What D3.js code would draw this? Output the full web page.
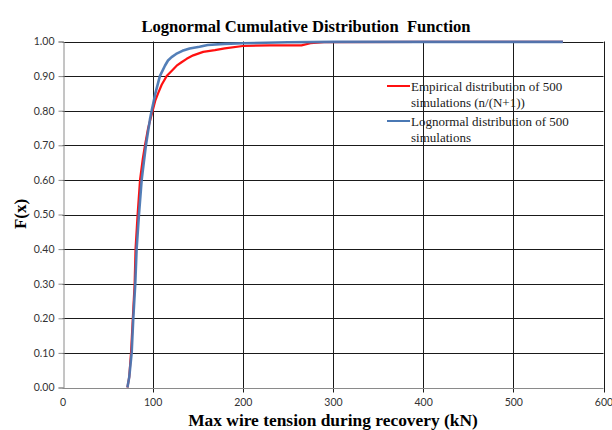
<!DOCTYPE html>
<html><head><meta charset="utf-8">
<script src="https://cdn.jsdelivr.net/npm/d3@7"></script>
<style>body{margin:0;background:#fff}svg{display:block}</style>
</head><body>
<svg id="c" width="612" height="430"></svg>
<script>
const xTicks = [0,100,200,300,400,500,600];
const yTicks = [0,0.1,0.2,0.3,0.4,0.5,0.6,0.7,0.8,0.9,1.0];
// Empirical distribution (n/(N+1))
const empX = [72,74,76,78,80,81,83.3,86,89,91.5,95,100,103,106,110,115.5,121,126.6,132,137.7,145,156,169,180,200,230,265,275,290,400,555];
const empF = [0,0.03,0.1,0.2,0.3,0.4,0.5,0.6,0.66,0.7,0.75,0.8,0.83,0.85,0.875,0.9,0.915,0.93,0.94,0.95,0.96,0.97,0.975,0.98,0.987,0.989,0.989,0.995,0.998,0.999,0.999];
// Lognormal distribution
const logX = [72,74,76.7,78.5,80.7,82.2,84.8,87.8,92.5,97,98.9,103,108,113.6,117,121,126,133,141,152,161,180,200,250,300,555];
const logF = [0,0.03,0.1,0.2,0.3,0.4,0.5,0.6,0.7,0.775,0.8,0.85,0.9,0.93,0.945,0.955,0.964,0.973,0.98,0.985,0.99,0.993,0.995,0.998,0.999,0.999];
const legendLabels = [["Empirical distribution of 500","simulations (n/(N+1))"],["Lognormal distribution of 500","simulations"]];
const colors = ["#ff1010","#4a78b4"];

const svg = d3.select("#c");
const x = d3.scaleLinear().domain([0,600]).range([62.5,603.5]);
const y = d3.scaleLinear().domain([0,1]).range([387.5,41.5]);

// grid
svg.append("g").selectAll("line").data(yTicks.slice(1)).join("line")
  .attr("x1",x(0)).attr("x2",x(600)).attr("y1",d=>Math.round(y(d))+0.5).attr("y2",d=>Math.round(y(d))+0.5)
  .attr("stroke","#1a1a1a").attr("stroke-width",1);
svg.append("g").selectAll("line").data(xTicks.slice(1)).join("line")
  .attr("x1",d=>Math.round(x(d))+0.5).attr("x2",d=>Math.round(x(d))+0.5).attr("y1",y(1)).attr("y2",y(0)+5)
  .attr("stroke","#1a1a1a").attr("stroke-width",1);

// axes
const yAxis = d3.axisLeft(y).tickValues(yTicks).tickFormat(d3.format(".2f")).tickSize(5).tickPadding(4);
const gy = svg.append("g").attr("transform",`translate(${Math.round(x(0))+0.5},0)`).call(yAxis);
const xAxis = d3.axisBottom(x).tickValues(xTicks).tickFormat(d3.format("d")).tickSize(0).tickPadding(10);
const gx = svg.append("g").attr("transform",`translate(0,${Math.round(y(0))+0.5})`).call(xAxis);
[gx,gy].forEach(g=>{
  g.select(".domain").attr("stroke","#8a8a8a");
  g.selectAll(".tick line").attr("stroke","#8a8a8a");
  g.selectAll("text").attr("font-family","Lato, 'Liberation Sans', sans-serif").attr("font-size",10.5).attr("fill","#333");
});
gx.select(".domain").attr("d",`M${x(0)},0H${x(600)}`);

// lines
const line = d3.line().x(d=>x(d[0])).y(d=>y(d[1]));
svg.append("path").datum(d3.zip(empX,empF)).attr("d",line)
  .attr("fill","none").attr("stroke",colors[0]).attr("stroke-width",2.2).attr("stroke-linejoin","round");
svg.append("path").datum(d3.zip(logX,logF)).attr("d",line)
  .attr("fill","none").attr("stroke",colors[1]).attr("stroke-width",2.6).attr("stroke-linejoin","round").attr("stroke-opacity",0.95);

// legend
const lg = svg.append("g").attr("font-family","'Liberation Serif', 'Times New Roman', serif").attr("font-size",13).attr("fill","#1a1a1a");
legendLabels.forEach((lab,i)=>{
  const yy = 86 + i*35;
  lg.append("line").attr("x1",387).attr("x2",410).attr("y1",yy).attr("y2",yy).attr("stroke",colors[i]).attr("stroke-width",2);
  lab.forEach((t,j)=>{
    lg.append("text").attr("x",411).attr("y",yy+4.5+j*16).text(t);
  });
});

// titles
svg.append("text").attr("x",306).attr("y",32).attr("text-anchor","middle")
  .attr("font-family","'Liberation Serif', 'Times New Roman', serif").attr("font-weight","bold").attr("font-size",16.6)
  .style("white-space","pre").text("Lognormal Cumulative Distribution  Function");
svg.append("text").attr("x",333).attr("y",426).attr("text-anchor","middle")
  .attr("font-family","'Liberation Serif', 'Times New Roman', serif").attr("font-weight","bold").attr("font-size",17.4)
  .text("Max wire tension during recovery (kN)");
svg.append("text").attr("transform","translate(26,214) rotate(-90)").attr("text-anchor","middle")
  .attr("font-family","'Liberation Serif', 'Times New Roman', serif").attr("font-weight","bold").attr("font-size",17)
  .text("F(x)");
</script>
</body></html>
